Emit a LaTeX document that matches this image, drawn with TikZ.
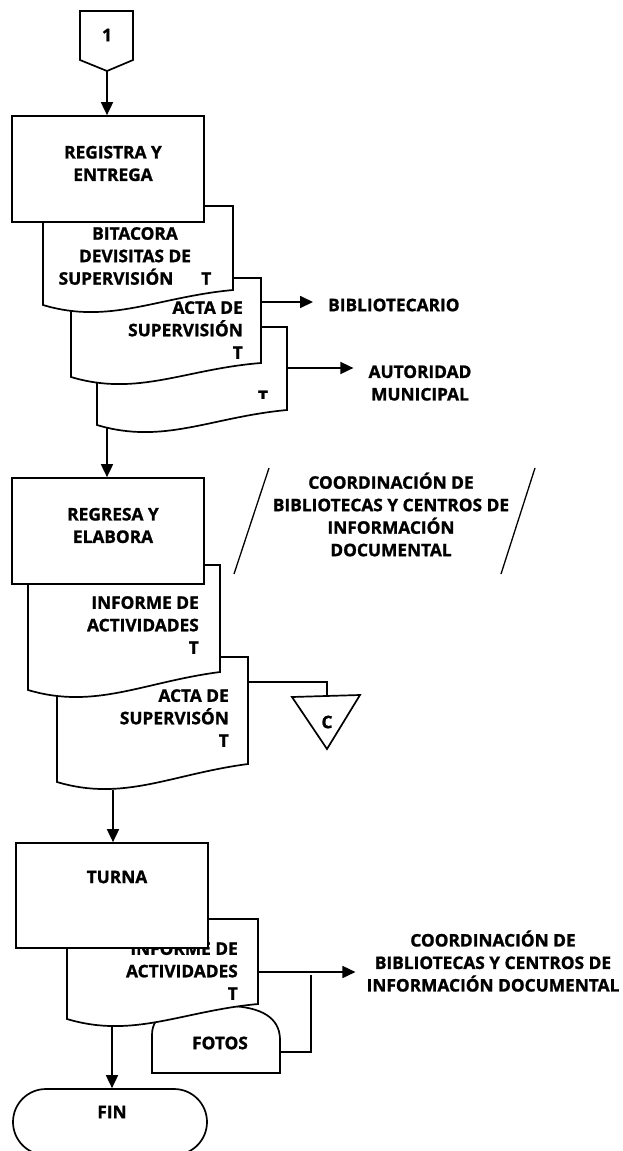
\documentclass[tikz,border=0pt]{standalone}
\usepackage{fontspec}
\setmainfont{Open Sans}[BoldFeatures={FakeBold=1.2}]
\usetikzlibrary{arrows.meta}

% document symbol with a wavy lower edge: left, top, right, bottom-right, bottom-left
\newcommand\docshape[5]{%
  \pgfmathsetmacro\dW{#3-#1}%
  \pgfmathsetmacro\cA{#1+0.6*\dW}%
  \pgfmathsetmacro\cB{#1+0.35*\dW}%
  \pgfmathsetmacro\yA{#5-8}%
  \pgfmathsetmacro\yB{#5+20}%
  \path[docline] (#1,#2) -- (#3,#2) -- (#3,#4) .. controls (\cA,\yA) and (\cB,\yB) .. (#1,#5) -- cycle;}

\begin{document}
\begin{tikzpicture}[x=1pt,y=-1pt,
  line join=miter,
  every node/.style={font=\fontsize{17.3}{22.5}\selectfont\bfseries, inner sep=0pt},
  docline/.style={draw, line width=1.7pt, fill=white},
  procbox/.style={draw, line width=1.7pt, fill=white, rectangle},
  link/.style={line width=1.7pt},
  flow/.style={line width=1.7pt, -{Triangle[length=13pt,width=12pt]}},
  slash/.style={line width=1.3pt},
  lbl/.style={align=center},
  rlbl/.style={align=right, anchor=east}]
\clip (0,0) rectangle (623,1151);
\fill[white] (0,0) rectangle (623,1151);

% off-page connector 1
\draw[link] (80,11) -- (133,11) -- (133,60) -- (107,71) -- (80,60) -- cycle;
\coordinate (c1) at (107,71);
\node (c1t) at (107,35) {1};

% ---------- first block ----------
\docshape{97}{327}{287}{410}{425}
\begin{scope}
  \clip (250,385) rectangle (280,398.5);
  \node[anchor=base] (d3t) at (263,403) {T};
\end{scope}
\coordinate (d3e) at (287,368);
\coordinate (d3s) at (107,428);

\docshape{71}{278}{261}{363}{377}
\node[rlbl] (d2t) at (243,330) {ACTA DE\\SUPERVISIÓN\\T};
\coordinate (d2e) at (261,302);

\docshape{43}{206}{233}{290}{305}
\node[lbl] (d1t) at (135,256) {BITACORA\\DEVISITAS DE\\SUPERVISIÓN\hspace{28pt}T};

\node[procbox, minimum width=192pt, minimum height=106pt] (b1) at (108,169) {};
\node[lbl] (b1t) at (113,163.5) {REGISTRA Y\\ENTREGA};

\draw[flow] (c1) -- (b1.north -| c1);

\node[anchor=west] (bib) at (328,305) {BIBLIOTECARIO};
\node[lbl] (aut) at (420,383) {AUTORIDAD\\MUNICIPAL};
\draw[flow] (d2e) -- (bib.west |- d2e) [shorten >=15pt];
\draw[flow] (d3e) -- (aut.west |- d3e) [shorten >=15pt];

% ---------- second block ----------
\docshape{57}{657}{248}{764}{782}
\node[rlbl] (d5t) at (229,718) {ACTA DE\\SUPERVISÓN\\T};
\coordinate (d5e) at (248,682);
\coordinate (d5s) at (113,790);

\docshape{28}{565}{220}{672}{690}
\node[rlbl] (d4t) at (199,625) {INFORME DE\\ACTIVIDADES\\T};

\node[procbox, minimum width=192pt, minimum height=106pt] (b2) at (108,531) {};
\node[lbl] (b2t) at (113,525.5) {REGRESA Y\\ELABORA};
\draw[flow] (d3s) -- (b2.north -| d3s);

\draw[slash] (269,468) -- (234,574);
\draw[slash] (535,468) -- (501,574);
\node[lbl] (coord1) at (391,514.5) {COORDINACIÓN DE\\BIBLIOTECAS Y CENTROS DE\\INFORMACIÓN\\DOCUMENTAL};

% archive C
\draw[link] (292,697) -- (360,695) -- (327,749) -- cycle;
\coordinate (arc) at (327,696);
\node (arct) at (327,722) {C};
\draw[link] (d5e) -| (arc);

% ---------- third block ----------
\draw[link] (152,1073) -- (152,1035) .. controls (152,1012) and (175,1008) .. (200,1006)
  -- (232,1006) .. controls (268,1008) and (280,1022) .. (280,1040) -- (280,1073) -- cycle;
\node (fot) at (220,1043) {FOTOS};
\coordinate (fote) at (280,1052);

\docshape{67}{919}{258}{1004}{1019}
\node[rlbl] (d6t) at (238,971) {INFORME DE\\ACTIVIDADES\\T};
\coordinate (d6e) at (258,972);
\coordinate (d6s) at (112,1025);

\node[procbox, minimum width=192pt, minimum height=105pt] (b3) at (112,895.5) {};
\node (b3t) at (117,877) {TURNA};
\draw[flow] (d5s) -- (b3.north -| d5s);

\node[lbl] (coord2) at (493,961) {COORDINACIÓN DE\\BIBLIOTECAS Y CENTROS DE\\INFORMACIÓN DOCUMENTAL};
\draw[flow] (d6e) -- (coord2.west |- d6e) [shorten >=11pt];
\coordinate (brk) at (311,975);
\draw[link] (fote) -| (brk);

% terminator
\node[draw, line width=1.7pt, rounded corners=33pt, minimum width=194pt, minimum height=66pt] (fin) at (110,1122) {};
\node (fint) at (112,1112) {FIN};
\draw[flow] (d6s) -- (fin.north -| d6s);
\end{tikzpicture}
\end{document}
